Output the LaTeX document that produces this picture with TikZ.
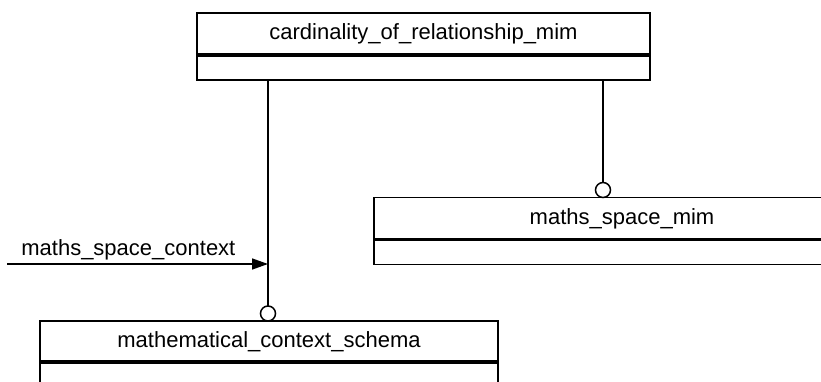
\documentclass[tikz,border=0pt]{standalone}
\usepackage{fontspec}
\setmainfont{Liberation Sans}
\usepackage{tikz}
\usetikzlibrary{arrows.meta,positioning}

\begin{document}
\begin{tikzpicture}[>={Triangle[length=16pt,width=11pt]}, x=1pt, y=-1pt,
                    line width=1.5pt,
                    entity/.style={draw,outer sep=0pt,minimum height=42pt,
                                   font=\fontsize{22}{26}\selectfont},
                    attrs/.style={draw,outer sep=0pt,minimum height=25pt},
                    divider/.style={line width=3.2pt},
                    ring/.style={circle,draw,outer sep=0pt,inner sep=0pt,minimum size=15pt,fill=white}]
  \clip (0,0) rectangle (821,382);
  \useasboundingbox (0,0) rectangle (821,382);

  \node[entity, minimum width=453pt] (card) at (423.5,34) {cardinality\_of\_relationship\_mim};
  \node[attrs, minimum width=453pt, below=0pt of card] (card attr) {};
  \draw[divider] (card.south west) -- (card.south east);

  \node[entity, minimum width=496pt] (space) at (622,218.5) {maths\_space\_mim};
  \node[attrs, minimum width=496pt, below=0pt of space] (space attr) {};
  \draw[divider] (space.south west) -- (space.south east);

  \node[entity, minimum width=458pt, minimum height=41pt] (math) at (269,341.5) {mathematical\_context\_schema};
  \node[attrs, minimum width=458pt, minimum height=35pt, below=0pt of math] (math attr) {};
  \draw[divider] (math.south west) -- (math.south east);

  \node[ring, above=0pt of math.north, xshift=-1pt] (math ring) {};
  \node[ring, above=0pt of space.north, xshift=-19pt] (space ring) {};

  \draw (math ring.north |- card attr.south) -- (math ring.north);
  \draw (space ring.north |- card attr.south) -- (space ring.north);

  \coordinate (ctx start) at (7,264);
  \draw[->] (ctx start) -- (ctx start -| math ring)
    node[above, pos=0.465, font=\fontsize{22}{26}\selectfont] {maths\_space\_context};
\end{tikzpicture}
\end{document}
